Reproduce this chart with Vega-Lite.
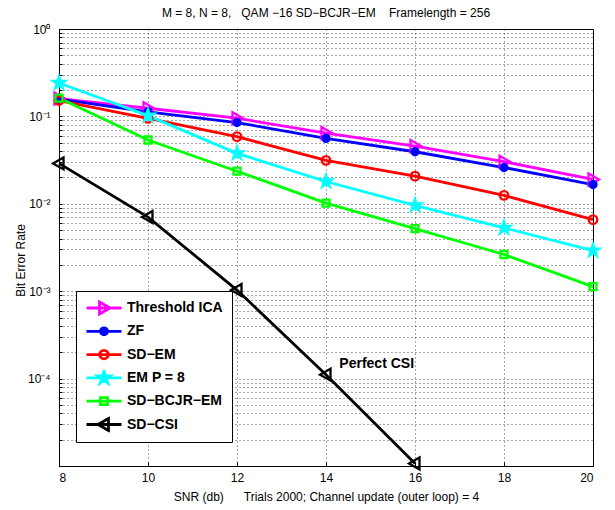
{
  "$schema": "https://vega.github.io/schema/vega-lite/v6.json",
  "width": 534,
  "height": 437,
  "autosize": "none",
  "padding": {"left": 59, "top": 29, "right": 22, "bottom": 44},
  "background": "white",
  "title": {
    "text": "M = 8, N = 8,\u00a0\u00a0\u00a0QAM −16 SD−BCJR−EM\u00a0\u00a0\u00a0\u00a0Framelength = 256",
    "fontSize": 12,
    "fontWeight": "normal",
    "font": "Liberation Sans",
    "color": "black",
    "offset": 3
  },
  "config": {
    "view": {"stroke": "black", "strokeWidth": 1},
    "font": "Liberation Sans",
    "axis": {
      "domainColor": "black",
      "tickColor": "black",
      "labelColor": "black",
      "titleColor": "black",
      "labelFont": "Liberation Sans",
      "titleFont": "Liberation Sans",
      "labelFontSize": 12,
      "titleFontSize": 12,
      "titleFontWeight": "normal",
      "gridColor": "#222222",
      "gridDash": [1, 3],
      "gridWidth": 1,
      "gridOpacity": 0.8
    }
  },
  "datasets": {
    "ber": [
      {"series": "Threshold ICA", "snr": 8, "ber": 0.16},
      {"series": "Threshold ICA", "snr": 10, "ber": 0.124},
      {"series": "Threshold ICA", "snr": 12, "ber": 0.0953},
      {"series": "Threshold ICA", "snr": 14, "ber": 0.0645},
      {"series": "Threshold ICA", "snr": 16, "ber": 0.0458},
      {"series": "Threshold ICA", "snr": 18, "ber": 0.0303},
      {"series": "Threshold ICA", "snr": 20, "ber": 0.019},
      {"series": "ZF", "snr": 8, "ber": 0.158},
      {"series": "ZF", "snr": 10, "ber": 0.113},
      {"series": "ZF", "snr": 12, "ber": 0.085},
      {"series": "ZF", "snr": 14, "ber": 0.0561},
      {"series": "ZF", "snr": 16, "ber": 0.0394},
      {"series": "ZF", "snr": 18, "ber": 0.026},
      {"series": "ZF", "snr": 20, "ber": 0.0166},
      {"series": "SD−EM", "snr": 8, "ber": 0.152},
      {"series": "SD−EM", "snr": 10, "ber": 0.095},
      {"series": "SD−EM", "snr": 12, "ber": 0.0586},
      {"series": "SD−EM", "snr": 14, "ber": 0.0314},
      {"series": "SD−EM", "snr": 16, "ber": 0.0207},
      {"series": "SD−EM", "snr": 18, "ber": 0.0125},
      {"series": "SD−EM", "snr": 20, "ber": 0.00658},
      {"series": "EM P = 8", "snr": 8, "ber": 0.241},
      {"series": "EM P = 8", "snr": 10, "ber": 0.102},
      {"series": "EM P = 8", "snr": 12, "ber": 0.0378},
      {"series": "EM P = 8", "snr": 14, "ber": 0.018},
      {"series": "EM P = 8", "snr": 16, "ber": 0.0096},
      {"series": "EM P = 8", "snr": 18, "ber": 0.0053},
      {"series": "EM P = 8", "snr": 20, "ber": 0.00292},
      {"series": "SD−BCJR−EM", "snr": 8, "ber": 0.162},
      {"series": "SD−BCJR−EM", "snr": 10, "ber": 0.0537},
      {"series": "SD−BCJR−EM", "snr": 12, "ber": 0.0236},
      {"series": "SD−BCJR−EM", "snr": 14, "ber": 0.0102},
      {"series": "SD−BCJR−EM", "snr": 16, "ber": 0.00519},
      {"series": "SD−BCJR−EM", "snr": 18, "ber": 0.00263},
      {"series": "SD−BCJR−EM", "snr": 20, "ber": 0.00113},
      {"series": "SD−CSI", "snr": 8, "ber": 0.029},
      {"series": "SD−CSI", "snr": 10, "ber": 0.00705},
      {"series": "SD−CSI", "snr": 12, "ber": 0.00103},
      {"series": "SD−CSI", "snr": 14, "ber": 0.000111},
      {"series": "SD−CSI", "snr": 16, "ber": 0.0000107}
    ],
    "note": [{"label": "Perfect CSI", "snr": 14.3, "ber": 0.000147}]
  },
  "resolve": {"scale": {"color": "independent", "shape": "independent", "fill": "independent"}},
  "layer": [
    {
      "data": {"name": "ber"},
      "mark": {"type": "line", "strokeWidth": 2.8},
      "encoding": {
        "x": {
          "field": "snr", "type": "quantitative",
          "scale": {"domain": [8, 20], "nice": false, "zero": false},
          "axis": {
            "values": [8, 10, 12, 14, 16, 18, 20],
            "tickSize": -4,
            "labelPadding": 10,
            "title": "SNR (db)\u00a0\u00a0\u00a0\u00a0\u00a0\u00a0Trials 2000; Channel update (outer loop) = 4",
            "titlePadding": 8,
            "grid": true
          }
        },
        "y": {
          "field": "ber", "type": "quantitative",
          "scale": {"type": "log", "domain": [0.00001, 1], "nice": false},
          "axis": {
            "values": [0.00001, 0.00002, 0.00003, 0.00004, 0.00005, 0.00006, 0.00007, 0.00008, 0.00009,
                       0.0001, 0.0002, 0.0003, 0.0004, 0.0005, 0.0006, 0.0007, 0.0008, 0.0009,
                       0.001, 0.002, 0.003, 0.004, 0.005, 0.006, 0.007, 0.008, 0.009,
                       0.01, 0.02, 0.03, 0.04, 0.05, 0.06, 0.07, 0.08, 0.09,
                       0.1, 0.2, 0.3, 0.4, 0.5, 0.6, 0.7, 0.8, 0.9, 1],
            "labelExpr": "datum.value == 1 ? '10⁰' : datum.value == 0.1 ? '10⁻¹' : datum.value == 0.01 ? '10⁻²' : datum.value == 0.001 ? '10⁻³' : datum.value == 0.0001 ? '10⁻⁴' : ''",
            "labelOverlap": false,
            "labelBound": false,
            "tickSize": -3,
            "labelPadding": 12,
            "title": "Bit Error Rate",
            "titlePadding": 0,
            "titleY": 231,
            "grid": true
          }
        },
        "color": {
          "field": "series", "type": "nominal",
          "scale": {
            "domain": ["Threshold ICA", "ZF", "SD−EM", "EM P = 8", "SD−BCJR−EM", "SD−CSI"],
            "range": ["#ff00ff", "#0000ff", "#ff0000", "#00ffff", "#00ff00", "#000000"]
          },
          "legend": null
        }
      }
    },
    {
      "data": {"name": "ber"},
      "mark": {"type": "point", "size": 100, "strokeWidth": 2.3, "opacity": 1, "filled": false},
      "encoding": {
        "x": {"field": "snr", "type": "quantitative"},
        "y": {"field": "ber", "type": "quantitative"},
        "color": {
          "field": "series", "type": "nominal",
          "scale": {
            "domain": ["Threshold ICA", "ZF", "SD−EM", "EM P = 8", "SD−BCJR−EM", "SD−CSI"],
            "range": ["#ff00ff", "#0000ff", "#ff0000", "#00ffff", "#00ff00", "#000000"]
          },
          "legend": null
        },
        "shape": {
          "field": "series", "type": "nominal",
          "scale": {
            "domain": ["Threshold ICA", "ZF", "SD−EM", "EM P = 8", "SD−BCJR−EM", "SD−CSI"],
            "range": [
              "M-0.9,-1.2L1.2,0L-0.9,1.2Z",
              "M0.7,0A0.7,0.7,0,1,1,-0.7,0A0.7,0.7,0,1,1,0.7,0Z",
              "M0.85,0A0.85,0.85,0,1,1,-0.85,0A0.85,0.85,0,1,1,0.85,0Z",
              "M0,-1.3L0.294,-0.405L1.236,-0.402L0.476,0.155L0.764,1.052L0,0.5L-0.764,1.052L-0.476,0.155L-1.236,-0.402L-0.294,-0.405Z",
              "M-0.7,-0.7L0.7,-0.7L0.7,0.7L-0.7,0.7Z",
              "M0.9,-1.2L-1.2,0L0.9,1.2Z"
            ]
          },
          "legend": null
        },
        "fill": {
          "field": "series", "type": "nominal",
          "scale": {
            "domain": ["Threshold ICA", "ZF", "SD−EM", "EM P = 8", "SD−BCJR−EM", "SD−CSI"],
            "range": ["transparent", "#0000ff", "transparent", "#00ffff", "transparent", "transparent"]
          },
          "legend": null
        }
      }
    },
    {
      "data": {"name": "note"},
      "mark": {"type": "text", "align": "left", "baseline": "middle", "fontSize": 14, "fontWeight": "bold", "font": "Liberation Sans", "color": "black"},
      "encoding": {
        "x": {"field": "snr", "type": "quantitative"},
        "y": {"field": "ber", "type": "quantitative"},
        "text": {"field": "label"}
      }
    },
    {
      "data": {"name": "ber"},
      "transform": [{"filter": "false"}],
      "mark": {"type": "point", "size": 1225, "strokeWidth": 2.8, "opacity": 1, "filled": false},
      "encoding": {
        "x": {"field": "snr", "type": "quantitative"},
        "y": {"field": "ber", "type": "quantitative"},
        "color": {
          "field": "series", "type": "nominal",
          "scale": {
            "domain": ["Threshold ICA", "ZF", "SD−EM", "EM P = 8", "SD−BCJR−EM", "SD−CSI"],
            "range": ["#ff00ff", "#0000ff", "#ff0000", "#00ffff", "#00ff00", "#000000"]
          },
          "legend": {
            "title": null, "orient": "none", "legendX": 17, "legendY": 262, "padding": 9,
            "strokeColor": "black", "fillColor": "white", "symbolSize": 1225, "symbolStrokeWidth": 2.8,
            "symbolOpacity": 1, "clipHeight": 16, "rowPadding": 7.3, "labelOffset": 4,
            "labelFont": "Liberation Sans", "labelFontSize": 14, "labelFontWeight": "bold",
            "labelColor": "black", "labelLimit": 200
          }
        },
        "shape": {
          "field": "series", "type": "nominal",
          "scale": {
            "domain": ["Threshold ICA", "ZF", "SD−EM", "EM P = 8", "SD−BCJR−EM", "SD−CSI"],
            "range": [
              "M-1,0L1,0M-0.257,-0.343L0.343,0L-0.257,0.343Z",
              "M-1,0L1,0M0.2,0A0.2,0.2,0,1,1,-0.2,0A0.2,0.2,0,1,1,0.2,0Z",
              "M-1,0L1,0M0.243,0A0.243,0.243,0,1,1,-0.243,0A0.243,0.243,0,1,1,0.243,0Z",
              "M-1,0L1,0M0,-0.371L0.084,-0.116L0.353,-0.115L0.136,0.044L0.218,0.301L0,0.143L-0.218,0.301L-0.136,0.044L-0.353,-0.115L-0.084,-0.116Z",
              "M-1,0L1,0M-0.2,-0.2L0.2,-0.2L0.2,0.2L-0.2,0.2Z",
              "M-1,0L1,0M0.257,-0.343L-0.343,0L0.257,0.343Z"
            ]
          },
          "legend": {
            "title": null, "orient": "none", "legendX": 17, "legendY": 262, "padding": 9,
            "strokeColor": "black", "fillColor": "white", "symbolSize": 1225, "symbolStrokeWidth": 2.8,
            "symbolOpacity": 1, "clipHeight": 16, "rowPadding": 7.3, "labelOffset": 4,
            "labelFont": "Liberation Sans", "labelFontSize": 14, "labelFontWeight": "bold",
            "labelColor": "black", "labelLimit": 200
          }
        },
        "fill": {
          "field": "series", "type": "nominal",
          "scale": {
            "domain": ["Threshold ICA", "ZF", "SD−EM", "EM P = 8", "SD−BCJR−EM", "SD−CSI"],
            "range": ["transparent", "#0000ff", "transparent", "#00ffff", "transparent", "transparent"]
          },
          "legend": {
            "title": null, "orient": "none", "legendX": 17, "legendY": 262, "padding": 9,
            "strokeColor": "black", "fillColor": "white", "symbolSize": 1225, "symbolStrokeWidth": 2.8,
            "symbolOpacity": 1, "clipHeight": 16, "rowPadding": 7.3, "labelOffset": 4,
            "labelFont": "Liberation Sans", "labelFontSize": 14, "labelFontWeight": "bold",
            "labelColor": "black", "labelLimit": 200
          }
        }
      }
    }
  ]
}
